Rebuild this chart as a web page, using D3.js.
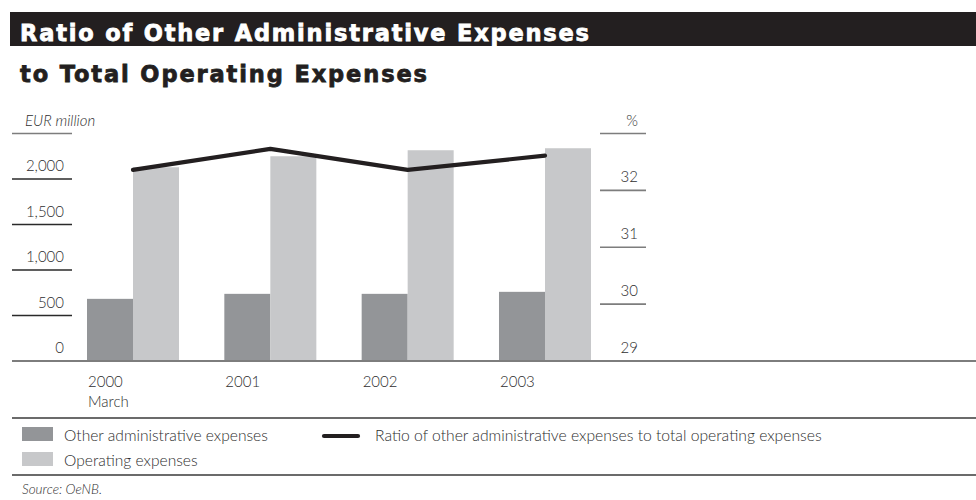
<!DOCTYPE html>
<html>
<head>
<meta charset="utf-8">
<script src="https://cdn.jsdelivr.net/npm/d3@7"></script>
<style>
  html, body { margin: 0; padding: 0; background: #fff; }
  svg { display: block; }
  text { font-family: Lato, "Open Sans", sans-serif; }
  .heading { font-family: "DejaVu Sans", Lato, sans-serif; font-weight: bold; }
  .thin { font-weight: 300; }
</style>
</head>
<body>
<svg id="chart" width="976" height="500"></svg>
<script>
// Years shown on the category axis (first period has a second line)
const categories = ["2000", "2001", "2002", "2003"];
const categorySubLabels = ["March", "", "", ""];
// EUR million
const otherAdminExpenses = [683, 738, 738, 760];
const operatingExpenses = [2129, 2250, 2316, 2338];
// Ratio of other administrative expenses to total operating expenses, %
const ratioPercent = [32.36, 32.73, 32.36, 32.61];

const leftTicks = [0, 500, 1000, 1500, 2000];
const leftTickLabels = ["0", "500", "1,000", "1,500", "2,000"];
const rightTicks = [29, 30, 31, 32];
const rightTickLabels = ["29", "30", "31", "32"];

const seriesNames = ["Other administrative expenses", "Operating expenses"];
const lineName = "Ratio of other administrative expenses to total operating expenses";

const colDark = "#939598";
const colLight = "#c7c8ca";
const colInk = "#231f20";
const colText = "#2e2e2e";
const colRule = "#7d7d7d";

const svg = d3.select("#chart");

// Heading
svg.append("rect").attr("x", 10).attr("y", 12).attr("width", 966).attr("height", 34).attr("fill", colInk);
svg.append("text").attr("class", "heading").attr("x", 20).attr("y", 41)
  .attr("fill", "#fff").attr("stroke", "#fff").attr("stroke-width", 0.8)
  .attr("font-size", 22.5)
  .attr("textLength", 569).attr("lengthAdjust", "spacing")
  .text("Ratio of Other Administrative Expenses");
svg.append("text").attr("class", "heading").attr("x", 20).attr("y", 82)
  .attr("fill", colInk).attr("stroke", colInk).attr("stroke-width", 0.8)
  .attr("font-size", 22.5)
  .attr("textLength", 407).attr("lengthAdjust", "spacing")
  .text("to Total Operating Expenses");

// Scales
const yTop = 133.5, yBase = 361;
const yLeft = d3.scaleLinear().domain([0, 2500]).range([yBase, yTop]);
const yRight = d3.scaleLinear().domain([29, 33]).range([yBase, yTop]);
const x = d3.scaleBand().domain(categories).range([87, 591]).paddingInner(0.33).paddingOuter(0);
const xs = d3.scaleBand().domain(seriesNames).range([0, x.bandwidth()]);

// Left axis: rules under labels
const leftAxis = svg.append("g");
leftAxis.selectAll("line.t").data(leftTicks.slice(1).concat([2500])).join("line")
  .attr("x1", 12).attr("x2", 72)
  .attr("y1", d => yLeft(d)).attr("y2", d => yLeft(d))
  .attr("stroke", d => d === 2500 ? colRule : "#2a2a2a").attr("stroke-width", 1.6);
leftAxis.selectAll("text").data(leftTicks).join("text").attr("class", "thin")
  .attr("x", 64).attr("y", d => yLeft(d) - 8)
  .attr("text-anchor", "end").attr("font-size", 15).attr("fill", colText)
  .text((d, i) => leftTickLabels[i]);
leftAxis.append("text").attr("class", "thin").attr("x", 25).attr("y", yLeft(2500) - 8)
  .attr("font-size", 15).attr("font-style", "italic").attr("fill", colText)
  .text("EUR million");

// Right axis
const rightAxis = svg.append("g");
rightAxis.selectAll("line").data(rightTicks.slice(1).concat([33])).join("line")
  .attr("x1", 600).attr("x2", 646)
  .attr("y1", d => yRight(d)).attr("y2", d => yRight(d))
  .attr("stroke", colRule).attr("stroke-width", 1.6);
rightAxis.selectAll("text").data(rightTicks).join("text").attr("class", "thin")
  .attr("x", 638).attr("y", d => yRight(d) - 8)
  .attr("text-anchor", "end").attr("font-size", 15).attr("fill", colText)
  .text((d, i) => rightTickLabels[i]);
rightAxis.append("text").attr("class", "thin").attr("x", 638).attr("y", yRight(33) - 8)
  .attr("text-anchor", "end").attr("font-size", 15).attr("fill", colText)
  .text("%");

// Bars
const rows = categories.map((c, i) => ({ c, vals: [otherAdminExpenses[i], operatingExpenses[i]] }));
const groups = svg.append("g").selectAll("g").data(rows).join("g")
  .attr("transform", d => `translate(${x(d.c)},0)`);
groups.selectAll("rect").data(d => d.vals.map((v, j) => ({ v, s: seriesNames[j] }))).join("rect")
  .attr("x", d => xs(d.s)).attr("width", xs.bandwidth())
  .attr("y", d => yLeft(d.v)).attr("height", d => yBase - yLeft(d.v))
  .attr("fill", d => d.s === seriesNames[0] ? colDark : colLight);

// Baseline across the full width
svg.append("line").attr("x1", 12).attr("x2", 976).attr("y1", yBase).attr("y2", yBase)
  .attr("stroke", colRule).attr("stroke-width", 2);

// Ratio line
const line = d3.line().x((d, i) => x(categories[i]) + x.bandwidth() / 2).y(d => yRight(d));
svg.append("path").attr("d", line(ratioPercent))
  .attr("fill", "none").attr("stroke", colInk).attr("stroke-width", 4.2)
  .attr("stroke-linejoin", "round").attr("stroke-linecap", "round");

// Category labels
const xl = svg.append("g");
xl.selectAll("text.y").data(categories).join("text").attr("class", "y thin")
  .attr("x", d => x(d) + 1).attr("y", 387)
  .attr("font-size", 15).attr("fill", colText).text(d => d);
xl.selectAll("text.s").data(categories).join("text").attr("class", "s thin")
  .attr("x", d => x(d) + 1).attr("y", 407)
  .attr("font-size", 15).attr("fill", colText).text((d, i) => categorySubLabels[i]);

// Legend
svg.append("line").attr("x1", 12).attr("x2", 976).attr("y1", 418).attr("y2", 418)
  .attr("stroke", "#3a3a3a").attr("stroke-width", 1.5);
svg.append("line").attr("x1", 12).attr("x2", 976).attr("y1", 475).attr("y2", 475)
  .attr("stroke", "#3a3a3a").attr("stroke-width", 1.5);
const leg = svg.append("g");
leg.selectAll("rect").data(seriesNames).join("rect")
  .attr("x", 22).attr("y", (d, i) => 427 + i * 25).attr("width", 31).attr("height", 14)
  .attr("fill", (d, i) => i === 0 ? colDark : colLight);
leg.selectAll("text.b").data(seriesNames).join("text").attr("class", "b thin")
  .attr("x", 64).attr("y", (d, i) => 441 + i * 25)
  .attr("font-size", 15.6).attr("fill", colText).text(d => d);
leg.append("line").attr("x1", 324).attr("x2", 358).attr("y1", 436).attr("y2", 436)
  .attr("stroke", colInk).attr("stroke-width", 4.2).attr("stroke-linecap", "round");
leg.append("text").attr("class", "thin").attr("x", 375).attr("y", 441)
  .attr("font-size", 15.7).attr("fill", colText).text(lineName);

// Source
svg.append("text").attr("class", "thin").attr("x", 22).attr("y", 494)
  .attr("font-size", 13.5).attr("font-style", "italic").attr("fill", colText)
  .text("Source: OeNB.");
</script>
</body>
</html>
